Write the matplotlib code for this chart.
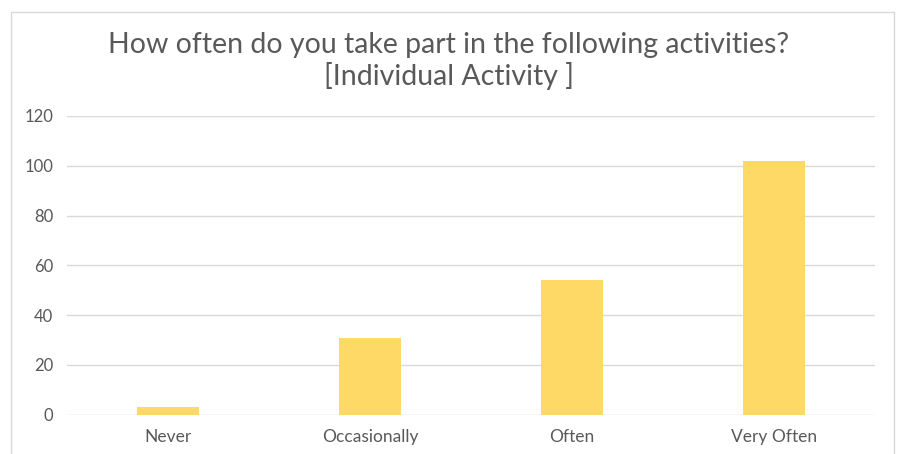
import matplotlib
matplotlib.use("Agg")
import matplotlib.pyplot as plt
from matplotlib.patches import Rectangle

categories = ["Never", "Occasionally", "Often", "Very Often"]
counts = [3, 31, 54, 102]
y_ticks = [0, 20, 40, 60, 80, 100, 120]

plt.rcParams['font.family'] = ['Lato', 'DejaVu Sans']

fig = plt.figure(figsize=(8.98, 4.54), dpi=100)
ax = fig.add_axes([67 / 898, 1 - 414.7 / 454, (875 - 67) / 898, (414.7 - 116) / 454])

# chart border
fig.patches.append(Rectangle((11 / 898, -0.05), (894 - 11) / 898, 1.05 - 12 / 454,
                             transform=fig.transFigure, fill=False,
                             edgecolor="#d9d9d9", linewidth=1))

ax.bar(range(len(categories)), counts, width=0.31, color="#FFD966", zorder=3)
ax.set_xlim(-0.5, len(categories) - 0.5)
ax.set_ylim(0, 120)
ax.set_yticks(y_ticks)
ax.set_xticks(range(len(categories)))
ax.set_xticklabels(categories)

ax.grid(axis="y", color="#d9d9d9", linewidth=1, zorder=0)
for s in ax.spines.values():
    s.set_visible(False)
ax.tick_params(axis="both", length=0, colors="#595959", labelsize=12.5)
ax.tick_params(axis="y", pad=10, labelsize=12)
ax.tick_params(axis="x", pad=10)

fig.text(0.5, 1 - 61 / 454, "How often do you take part in the following activities?\n[Individual Activity ]",
         ha="center", va="center", fontsize=20.5, color="#595959", linespacing=1.2)

fig.savefig("out.png", dpi=100)
